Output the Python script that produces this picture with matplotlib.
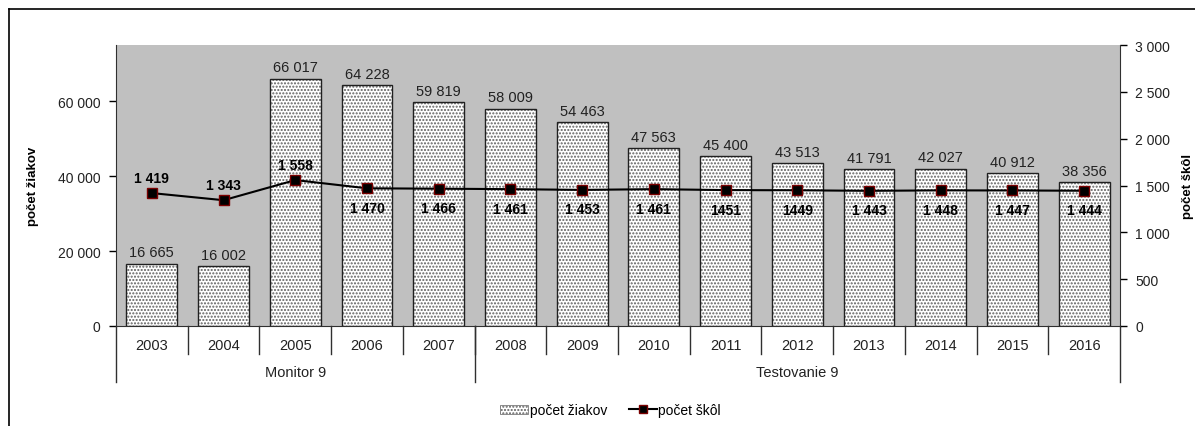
import numpy as np
import matplotlib
matplotlib.use("Agg")
import matplotlib.pyplot as plt
from matplotlib.lines import Line2D
from matplotlib.patches import Patch

plt.rcParams['font.family'] = ['Liberation Sans', 'DejaVu Sans']
plt.rcParams['hatch.linewidth'] = 1.0

# data
roky = ['2003', '2004', '2005', '2006', '2007', '2008', '2009',
        '2010', '2011', '2012', '2013', '2014', '2015', '2016']
ziaci = [16665, 16002, 66017, 64228, 59819, 58009, 54463,
         47563, 45400, 43513, 41791, 42027, 40912, 38356]
skoly = [1419, 1343, 1558, 1470, 1466, 1461, 1453,
         1461, 1451, 1449, 1443, 1448, 1447, 1444]
skoly_popisky = ['1 419', '1 343', '1 558', '1 470', '1 466', '1 461', '1 453',
                 '1 461', '1451', '1449', '1 443', '1 448', '1 447', '1 444']
skupiny = ['Monitor 9', 'Testovanie 9']
skupiny_pocet = [5, 9]


def fmt(v):
    return '{:,}'.format(int(v)).replace(',', ' ')


W, H = 1195, 427
fig = plt.figure(figsize=(W / 100, H / 100), dpi=100)
ax = fig.add_axes([116 / W, 1 - 327 / H, (1120 - 116) / W, (327 - 46) / H])
ax.set_facecolor('#c0c0c0')

x = np.arange(len(roky))
# dotted fill first, then the outline on top
ax.bar(x, ziaci, width=0.71, color='white', hatch='.....', edgecolor='#606060',
       linewidth=0, zorder=2)
ax.bar(x, ziaci, width=0.71, facecolor='none', edgecolor='#202020',
       linewidth=1.0, zorder=3)
for xi, v in zip(x, ziaci):
    ax.annotate(fmt(v), (xi, v), xytext=(0, 3), textcoords='offset points',
                ha='center', va='bottom', fontsize=10.5, color='#222222')

ax.set_xlim(-0.5, len(roky) - 0.5)
ax.set_ylim(0, 75000)
ax.set_yticks([0, 20000, 40000, 60000])
ax.set_yticklabels([fmt(v) for v in [0, 20000, 40000, 60000]], fontsize=10,
                   color='#222222')
ax.tick_params(axis='y', direction='out', length=5, width=1, pad=6)
ax.set_xticks([])
for s in ['top', 'right']:
    ax.spines[s].set_visible(False)
ax.spines['left'].set_color('#303030')
ax.spines['bottom'].set_color('#303030')
ax.set_ylabel('počet žiakov', fontsize=9.5, fontweight='bold', va='center')
ax.yaxis.set_label_coords((33 - 116) / 1004, 0.5)

# right axis with the school count line
ax2 = ax.twinx()
ax2.set_ylim(0, 3000)
ax2.plot(x, skoly, color='black', linewidth=1.5, marker='s', markersize=7,
         markerfacecolor='black', markeredgecolor='#7a0000', markeredgewidth=1,
         zorder=5)
for i, (xi, v, t) in enumerate(zip(x, skoly, skoly_popisky)):
    if i < 3:
        ax2.annotate(t, (xi, v), xytext=(0, 6), textcoords='offset points',
                     ha='center', va='bottom', fontsize=10, fontweight='bold')
    else:
        ax2.annotate(t, (xi, v), xytext=(0, -9), textcoords='offset points',
                     ha='center', va='top', fontsize=10, fontweight='bold')
ax2.set_yticks(np.arange(0, 3001, 500))
ax2.set_yticklabels([fmt(v) for v in np.arange(0, 3001, 500)], fontsize=10,
                    color='#222222')
ax2.tick_params(axis='y', direction='out', length=5, width=1, pad=6)
for s in ['top', 'left', 'bottom']:
    ax2.spines[s].set_visible(False)
ax2.spines['right'].set_color('#303030')
ax2.set_ylabel('počet škôl', fontsize=9.5, fontweight='bold', va='center',
               rotation=90)
ax2.yaxis.set_label_coords((1188 - 116) / 1004, 0.5)

# category axis below the plot: years and test groups
tr = ax.get_xaxis_transform()
ah = 327 - 46
for xi, r in zip(x, roky):
    ax.text(xi, -19 / ah, r, transform=tr, ha='center', va='center',
            fontsize=10.5, color='#222222')
for b in np.arange(0.5, len(roky) - 1, 1.0):
    ax.plot([b, b], [0, -28 / ah], transform=tr, color='#303030',
            linewidth=1, clip_on=False)
hranice = np.concatenate([[0], np.cumsum(skupiny_pocet)]) - 0.5
for b in hranice:
    ax.plot([b, b], [0, -56 / ah], transform=tr, color='#303030',
            linewidth=1, clip_on=False)
for g, a, b in zip(skupiny, hranice[:-1], hranice[1:]):
    ax.text((a + b) / 2, -46 / ah, g, transform=tr, ha='center', va='center',
            fontsize=10.5, color='#222222')

# legend
handles = [Patch(facecolor='white', edgecolor='#606060', hatch='.....', linewidth=0.5),
           Line2D([], [], color='black', linewidth=1.5, marker='s', markersize=6,
                  markerfacecolor='black', markeredgecolor='#7a0000')]
fig.legend(handles, ['počet žiakov', 'počet škôl'], loc='center',
           bbox_to_anchor=(0.511, 1 - 411 / H), ncol=2, frameon=False, fontsize=10,
           handlelength=2.0, handleheight=0.6, handletextpad=0.1,
           columnspacing=1.6)

# outer frame
fig.add_artist(Line2D([9 / W, 1], [1 - 10 / H, 1 - 10 / H], color='black',
                      linewidth=1.2, transform=fig.transFigure))
fig.add_artist(Line2D([9 / W, 9 / W], [0, 1 - 10 / H], color='black',
                      linewidth=1.2, transform=fig.transFigure))

fig.savefig('out.png', dpi=100)
